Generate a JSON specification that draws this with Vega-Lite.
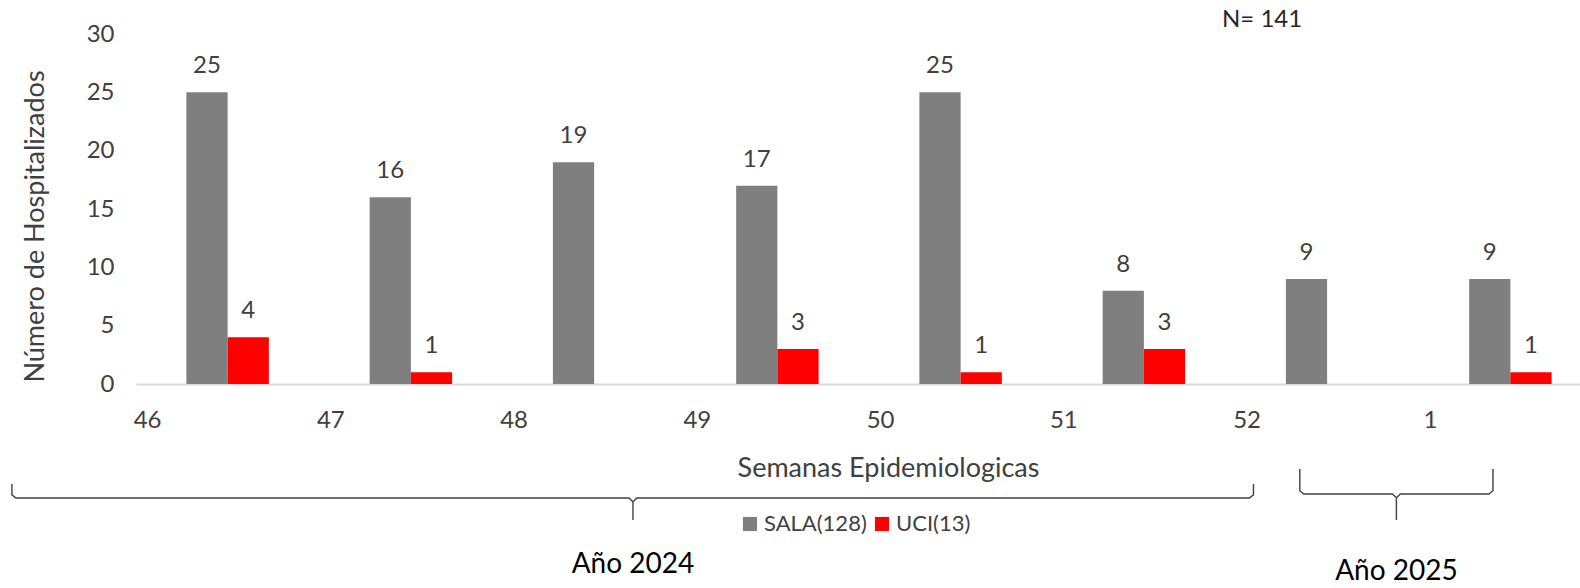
{
  "$schema": "https://vega.github.io/schema/vega-lite/v6.json",
  "autosize": {"type": "none"},
  "width": 1444,
  "height": 350,
  "padding": {"left": 136, "top": 34, "right": 0, "bottom": 204},
  "background": "white",
  "config": {"view": {"stroke": null}, "font": "Lato"},
  "title": {"text": "N= 141", "anchor": "start", "frame": "group", "dx": 1086, "offset": -10, "fontSize": 24, "fontWeight": "normal", "color": "#262626", "font": "Lato"},
  "datasets": {
    "semanas": [
      {"semana": "46", "tipo": "SALA(128)", "casos": 25},
      {"semana": "46", "tipo": "UCI(13)", "casos": 4},
      {"semana": "47", "tipo": "SALA(128)", "casos": 16},
      {"semana": "47", "tipo": "UCI(13)", "casos": 1},
      {"semana": "48", "tipo": "SALA(128)", "casos": 19},
      {"semana": "49", "tipo": "SALA(128)", "casos": 17},
      {"semana": "49", "tipo": "UCI(13)", "casos": 3},
      {"semana": "50", "tipo": "SALA(128)", "casos": 25},
      {"semana": "50", "tipo": "UCI(13)", "casos": 1},
      {"semana": "51", "tipo": "SALA(128)", "casos": 8},
      {"semana": "51", "tipo": "UCI(13)", "casos": 3},
      {"semana": "52", "tipo": "SALA(128)", "casos": 9},
      {"semana": "1", "tipo": "SALA(128)", "casos": 9},
      {"semana": "1", "tipo": "UCI(13)", "casos": 1}
    ],
    "llaves": [
      {"anio": "2024", "i": 1, "pos": -1.177, "nivel": -8.57},
      {"anio": "2024", "i": 2, "pos": -1.177, "nivel": -9.5},
      {"anio": "2024", "i": 3, "pos": -1.155, "nivel": -9.77},
      {"anio": "2024", "i": 4, "pos": 2.19, "nivel": -9.77},
      {"anio": "2024", "i": 5, "pos": 2.212, "nivel": -10.1},
      {"anio": "2024", "i": 6, "pos": 2.212, "nivel": -11.66},
      {"anio": "2024", "i": 7, "pos": 2.212, "nivel": -10.1},
      {"anio": "2024", "i": 8, "pos": 2.234, "nivel": -9.77},
      {"anio": "2024", "i": 9, "pos": 5.576, "nivel": -9.77},
      {"anio": "2024", "i": 10, "pos": 5.598, "nivel": -9.5},
      {"anio": "2024", "i": 11, "pos": 5.598, "nivel": -8.57},
      {"anio": "2025", "i": 1, "pos": 5.851, "nivel": -7.29},
      {"anio": "2025", "i": 2, "pos": 5.851, "nivel": -9.15},
      {"anio": "2025", "i": 3, "pos": 5.873, "nivel": -9.43},
      {"anio": "2025", "i": 4, "pos": 6.356, "nivel": -9.43},
      {"anio": "2025", "i": 5, "pos": 6.378, "nivel": -9.76},
      {"anio": "2025", "i": 6, "pos": 6.378, "nivel": -11.66},
      {"anio": "2025", "i": 7, "pos": 6.378, "nivel": -9.76},
      {"anio": "2025", "i": 8, "pos": 6.4, "nivel": -9.43},
      {"anio": "2025", "i": 9, "pos": 6.883, "nivel": -9.43},
      {"anio": "2025", "i": 10, "pos": 6.905, "nivel": -9.15},
      {"anio": "2025", "i": 11, "pos": 6.905, "nivel": -7.29}
    ],
    "anios": [
      {"etiqueta": "Año 2024", "pos": 2.212, "nivel": -15.5},
      {"etiqueta": "Año 2025", "pos": 6.378, "nivel": -16.15}
    ]
  },
  "layer": [
    {
      "data": {"name": "semanas"},
      "encoding": {
        "x": {
          "field": "semana", "type": "nominal",
          "sort": ["46", "47", "48", "49", "50", "51", "52", "1"],
          "scale": {"range": [0, 1466], "paddingInner": 0.55, "paddingOuter": 0.275},
          "axis": {
            "title": "Semanas Epidemiologicas", "labelAngle": 0, "ticks": false,
            "domainColor": "#d9d9d9", "domainWidth": 2,
            "labelOffset": -80, "labelPadding": 24, "labelFontSize": 24, "labelColor": "#404040", "labelFont": "Lato",
            "titleFontSize": 27, "titleFontWeight": "normal", "titleColor": "#404040", "titleFont": "Lato",
            "titleX": 752, "titleY": 84, "titleBaseline": "middle"
          }
        },
        "xOffset": {"field": "tipo", "type": "nominal", "sort": ["SALA(128)", "UCI(13)"], "scale": {"paddingInner": 0, "paddingOuter": 0}},
        "y": {
          "field": "casos", "type": "quantitative",
          "scale": {"domain": [0, 30], "nice": false},
          "axis": {
            "title": "Número de Hospitalizados", "values": [0, 5, 10, 15, 20, 25, 30],
            "grid": false, "domain": false, "ticks": false,
            "labelPadding": 22, "labelFontSize": 24, "labelColor": "#404040", "labelFont": "Lato",
            "titleFontSize": 27, "titleFontWeight": "normal", "titleColor": "#404040", "titleFont": "Lato",
            "titleX": -87, "titleY": 192
          }
        }
      },
      "layer": [
        {
          "mark": {"type": "bar"},
          "encoding": {
            "color": {
              "field": "tipo", "type": "nominal",
              "scale": {"domain": ["SALA(128)", "UCI(13)"], "range": ["#7f7f7f", "#ff0000"]},
              "legend": {
                "title": null, "orient": "none", "legendX": 603, "legendY": 479, "direction": "horizontal",
                "symbolType": "square", "symbolSize": 200, "symbolStrokeWidth": 0,
                "labelFontSize": 22, "labelColor": "#404040", "labelFont": "Lato",
                "columnPadding": 4, "labelOffset": 3
              }
            }
          }
        },
        {
          "mark": {"type": "text", "baseline": "alphabetic", "dy": -19, "fontSize": 24, "color": "#404040", "font": "Lato"},
          "encoding": {"text": {"field": "casos", "type": "quantitative"}}
        }
      ]
    },
    {
      "layer": [
        {
          "data": {"name": "llaves"},
          "mark": {"type": "line", "color": "#404040", "strokeWidth": 1.4},
          "encoding": {
            "x": {"field": "pos", "type": "quantitative", "scale": {"domain": [-0.5, 7.5], "range": [0, 1466], "nice": false, "zero": false}, "axis": null},
            "y": {"field": "nivel", "type": "quantitative", "scale": {"domain": [0, 30], "nice": false, "zero": false}, "axis": null},
            "detail": {"field": "anio", "type": "nominal"},
            "order": {"field": "i", "type": "quantitative"}
          }
        },
        {
          "data": {"name": "anios"},
          "mark": {"type": "text", "fontSize": 28, "color": "#000000", "font": "Lato", "baseline": "middle"},
          "encoding": {
            "x": {"field": "pos", "type": "quantitative", "scale": {"domain": [-0.5, 7.5], "range": [0, 1466], "nice": false, "zero": false}, "axis": null},
            "y": {"field": "nivel", "type": "quantitative", "scale": {"domain": [0, 30], "nice": false, "zero": false}, "axis": null},
            "text": {"field": "etiqueta", "type": "nominal"}
          }
        }
      ]
    }
  ],
  "resolve": {"scale": {"x": "independent", "y": "independent"}}
}
